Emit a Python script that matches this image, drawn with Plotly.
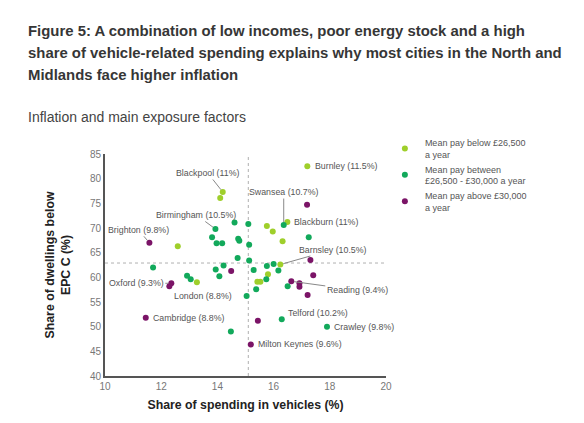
import plotly.graph_objects as go

# share of spending in vehicles (%), share of dwellings below EPC C (%)
low_x = [14.19, 14.10, 12.59, 15.76, 15.97, 16.49, 16.32, 17.20, 16.24, 13.27, 15.80, 15.42, 15.53]
low_y = [77.3, 76.1, 66.3, 70.4, 69.3, 71.2, 67.3, 82.5, 62.6, 59.0, 60.6, 59.1, 59.1]

mid_x = [13.93, 13.81, 13.97, 14.17, 14.61, 14.74, 14.78, 15.10, 15.13, 16.36,
         17.25, 14.72, 15.13, 14.22, 13.94, 14.07, 11.71, 12.92, 13.05, 15.29,
         15.76, 16.00, 16.17, 15.74, 15.38, 15.04, 16.50, 16.29, 17.90, 14.48]
mid_y = [69.8, 68.1, 66.9, 66.9, 71.1, 67.8, 67.4, 70.8, 66.6, 70.6,
         68.1, 63.9, 63.4, 62.4, 61.6, 60.2, 62.0, 60.3, 59.6, 61.5,
         62.3, 62.7, 61.4, 59.6, 57.6, 56.2, 58.2, 51.5, 50.0, 49.0]

high_x = [11.58, 12.36, 12.29, 11.45, 14.49, 17.19, 17.31, 17.41, 16.63, 16.92, 16.92, 17.21, 15.44, 15.19]
high_y = [67.0, 58.8, 58.2, 51.8, 61.3, 74.7, 63.5, 60.4, 59.2, 58.8, 58.1, 56.4, 51.2, 46.4]

avg_x = 15.1
avg_y = 62.9

# city labels: name, x, y, ax, ay (pixel offsets), anchor
labels = [
    ('Blackpool (11%)', 14.19, 77.3, -15, -19, 'center'),
    ('Birmingham (10.5%)', 13.93, 69.8, -19, -14, 'center'),
    ('Brighton (9.8%)', 11.58, 67.0, -11, -13, 'center'),
    ('Swansea (10.7%)', 16.36, 70.6, 0, -33, 'center'),
    ('Barnsley (10.5%)', 16.24, 62.6, 53, -15, 'center'),
    ('Oxford (9.3%)', 12.36, 58.8, -35, 0, 'center'),
    ('London (8.8%)', 12.29, 58.2, 34, 10, 'center'),
    ('Reading (9.4%)', 16.63, 59.2, 66, 9, 'center'),
    ('Burnley (11.5%)', 17.20, 82.5, 6, 0, 'left'),
    ('Blackburn (11%)', 16.49, 71.2, 5, 0, 'left'),
    ('Cambridge (8.8%)', 11.45, 51.8, 5, 0, 'left'),
    ('Telford (10.2%)', 16.29, 51.5, 4, -6, 'left'),
    ('Crawley (9.8%)', 17.90, 50.0, 5, 0, 'left'),
    ('Milton Keynes (9.6%)', 15.19, 46.4, 5, 0, 'left'),
]

title_lines = [
    'Figure 5: A combination of low incomes, poor energy stock and a high',
    'share of vehicle-related spending explains why most cities in the North and',
    'Midlands face higher inflation',
]

NARROW = 'Liberation Sans Narrow, Arial Narrow, Liberation Sans, sans-serif'
SANS = 'Liberation Sans, Arial, sans-serif'
LOW_C = '#9fcf2b'
MID_C = '#12a95b'
HIGH_C = '#7b1467'

fig = go.Figure()
fig.add_trace(go.Scatter(x=low_x, y=low_y, mode='markers', name='Mean pay below £26,500<br>a year',
                         marker=dict(color=LOW_C, size=6)))
fig.add_trace(go.Scatter(x=mid_x, y=mid_y, mode='markers', name='Mean pay between<br>£26,500 - £30,000 a year',
                         marker=dict(color=MID_C, size=6)))
fig.add_trace(go.Scatter(x=high_x, y=high_y, mode='markers', name='Mean pay above £30,000<br>a year',
                         marker=dict(color=HIGH_C, size=6)))

# average lines
fig.add_shape(type='line', x0=avg_x, x1=avg_x, y0=40, y1=85, layer='below',
              line=dict(color='#b0b0b0', width=1, dash='dot'))
fig.add_shape(type='line', x0=10, x1=20, y0=avg_y, y1=avg_y, layer='below',
              line=dict(color='#b0b0b0', width=1, dash='dot'))

for name, x, y, ax, ay, anchor in labels:
    if anchor == 'left':
        fig.add_annotation(x=x, y=y, text=name, showarrow=False, xanchor='left',
                           xshift=ax, yshift=-ay, font=dict(size=8.8, color='#555', family=NARROW))
    else:
        fig.add_annotation(x=x, y=y, text=name, showarrow=True, arrowhead=0, arrowwidth=1,
                           arrowcolor='#888', ax=ax, ay=ay, standoff=3,
                           font=dict(size=8.8, color='#555', family=NARROW))

# heading and sub heading
for i, line in enumerate(title_lines):
    fig.add_annotation(text='<b>' + line + '</b>', xref='paper', yref='paper',
                       x=-0.281, y=1.554 - i * 0.0996, xanchor='left', yanchor='middle',
                       showarrow=False, font=dict(size=14.9, color='#363636', family=SANS))
fig.add_annotation(text='Inflation and main exposure factors', xref='paper', yref='paper',
                   x=-0.281, y=1.1653, xanchor='left', yanchor='middle', showarrow=False,
                   font=dict(size=14, color='#444', family=SANS))

fig.update_xaxes(range=[10, 20], dtick=2, showgrid=False, zeroline=False,
                 showline=True, linecolor='#555', linewidth=2,
                 tickfont=dict(size=10, color='#777', family=SANS),
                 title=dict(text='<b>Share of spending in vehicles (%)</b>', standoff=9,
                            font=dict(size=12.3, color='#222', family=NARROW)))
fig.update_yaxes(range=[40, 85], dtick=5, showgrid=False, zeroline=False,
                 showline=True, linecolor='#555', linewidth=2,
                 tickfont=dict(size=10, color='#777', family=SANS),
                 title=dict(text='<b>Share of dwellings below<br>EPC C (%)</b>', standoff=17,
                            font=dict(size=12.3, color='#222', family=NARROW)))

# the page body adds an 8px margin, so the figure is 8px smaller than the window
fig.update_layout(
    width=576, height=415,
    paper_bgcolor='white', plot_bgcolor='white',
    margin=dict(l=97, r=198, t=146, b=47),
    font=dict(family=SANS, color='#444'),
    legend=dict(x=0.996, y=1.107, xanchor='left', yanchor='top',
                font=dict(size=9, color='#555', family=NARROW),
                itemwidth=30, tracegroupgap=7, bgcolor='rgba(0,0,0,0)'),
    showlegend=True,
)

fig.write_html('out.html')
